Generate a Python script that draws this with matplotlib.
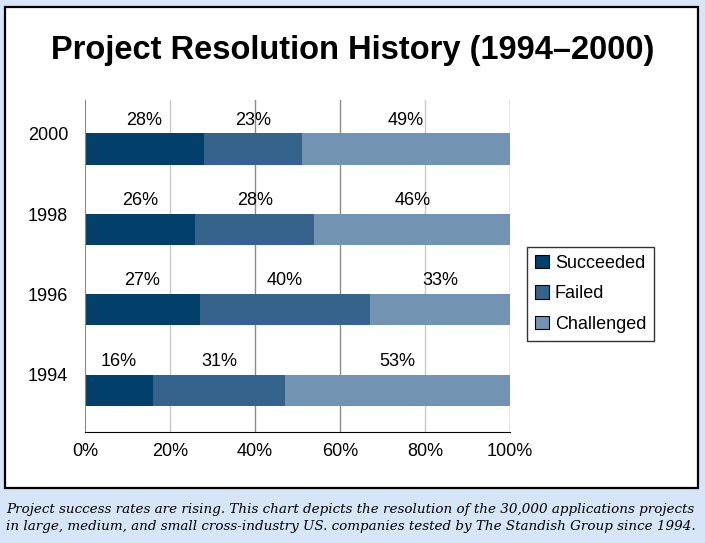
import matplotlib.pyplot as plt
from matplotlib.patches import Rectangle

years = ['1994', '1996', '1998', '2000']
succeeded = [16, 27, 26, 28]
failed = [31, 40, 28, 23]
challenged = [53, 33, 46, 49]
series = ['Succeeded', 'Failed', 'Challenged']
colors = ['#033f6b', '#35638b', '#7393b3']
xticks = [0, 20, 40, 60, 80, 100]

plt.rcParams['font.family'] = ['Liberation Sans', 'DejaVu Sans']

fig = plt.figure(figsize=(7.05, 5.43), dpi=100)
fig.patch.set_facecolor('#d6e6f8')

# white panel with black border
panel = Rectangle((5 / 705, 1 - 488 / 543), 693 / 705, 481 / 543,
                  transform=fig.transFigure, facecolor='white',
                  edgecolor='black', linewidth=1.6, zorder=-10)
fig.patches.append(panel)

fig.text(0.5, 1 - 50 / 543, 'Project Resolution History (1994\u20132000)',
         ha='center', va='center', fontsize=23.5, fontweight='heavy',
         family=['Liberation Sans', 'DejaVu Sans'])

ax = fig.add_axes([85 / 705, 1 - 432 / 543, 425 / 705, 332 / 543])
ax.set_facecolor('none')

ypos = range(len(years))
off = 0.19
h = 0.39
data = [succeeded, failed, challenged]
left = [0] * len(years)
for name, vals, col in zip(series, data, colors):
    ys = [y - off for y in ypos]
    ax.barh(ys, vals, left=left, height=h, color=col, label=name, zorder=2)
    for y, l, v in zip(ypos, left, vals):
        ax.text(l + v / 2, y + 0.17, f'{v}%', ha='center', va='center',
                fontsize=13, zorder=3)
    left = [a + b for a, b in zip(left, vals)]

for x in xticks[1:]:
    c = '#c8c8c8' if x in (20, 80) else '#8a8a8a'
    ax.axvline(x, color=c, linewidth=1.0, zorder=1)

ax.set_xlim(0, 100)
ax.set_ylim(-0.71, 3.42)
ax.set_xticks(xticks)
ax.set_xticklabels([f'{x}%' for x in xticks], fontsize=13)
ax.set_yticks(list(ypos))
ax.set_yticklabels(years, fontsize=13)
ax.tick_params(length=0)
ax.tick_params(axis='x', pad=8)
ax.tick_params(axis='y', pad=12)
for s in ['top', 'right']:
    ax.spines[s].set_visible(False)
ax.spines['left'].set_color('#8a8a8a')
ax.spines['bottom'].set_color('black')

leg = ax.legend(loc='center left', bbox_to_anchor=(1.04, 0.416), fontsize=13,
                frameon=True, fancybox=False, edgecolor='black',
                borderaxespad=0,
                handlelength=0.75, handleheight=0.75, handletextpad=0.35,
                labelspacing=0.75, borderpad=0.45)
leg.get_frame().set_linewidth(1.0)
for p in leg.get_patches():
    p.set_edgecolor('black')
    p.set_linewidth(0.8)

caption = ('Project success rates are rising. This chart depicts the resolution of the 30,000 applications projects\n'
           'in large, medium, and small cross-industry US. companies tested by The Standish Group since 1994.')
fig.text(6 / 705, 1 - 518 / 543, caption, ha='left', va='center',
         fontsize=9.7, style='italic', family=['DejaVu Serif'],
         linespacing=1.35)

fig.savefig('out.png', dpi=100, facecolor=fig.get_facecolor())
